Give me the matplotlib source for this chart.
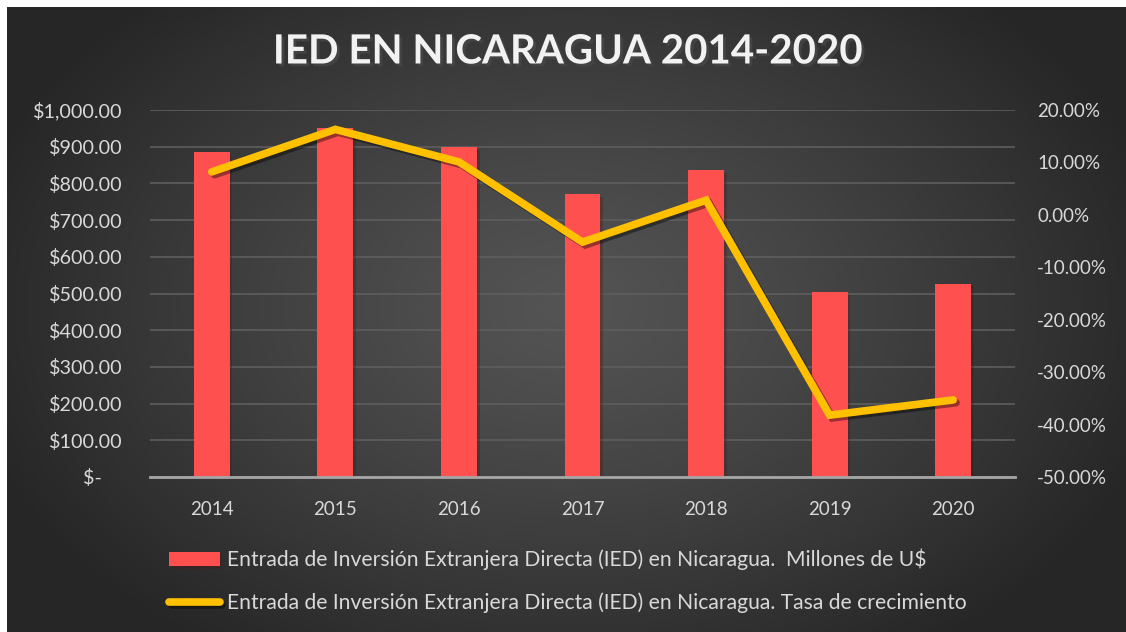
import matplotlib.pyplot as plt
import matplotlib.patheffects as pe
from matplotlib.ticker import FuncFormatter
import numpy as np

years = ['2014', '2015', '2016', '2017', '2018', '2019', '2020']
ied_millones = [884.4, 950.3, 898.8, 771.6, 837.0, 503.0, 527.0]
tasa = [8.2, 16.3, 10.1, -5.2, 2.8, -38.2, -35.3]  # %

bar_label = 'Entrada de Inversión Extranjera Directa (IED) en Nicaragua.  Millones de U$'
line_label = 'Entrada de Inversión Extranjera Directa (IED) en Nicaragua. Tasa de crecimiento'

plt.rcParams['font.family'] = ['Lato', 'DejaVu Sans']
txt = '#d9d9d9'

W, H = 1126, 632
fig = plt.figure(figsize=(W / 100, H / 100), dpi=100)
fig.patch.set_facecolor('white')

# radial gradient background
bg = fig.add_axes([7 / W, 0, 1 - 7 / W, 1 - 7 / H], zorder=-10)
yy, xx = np.mgrid[0:H - 7, 0:W - 7]
r = np.sqrt(((xx - 560) / 620) ** 2 + ((yy - 300) / 420) ** 2)
r = np.clip(r, 0, 1)
c = 0x54 - (0x54 - 0x26) * r ** 1.2
img = np.dstack([c, c, c]) / 255
bg.imshow(img, aspect='auto', interpolation='bilinear')
bg.axis('off')

ax = fig.add_axes([150 / W, 1 - 477 / H, 865 / W, 367 / H])
ax.set_facecolor('none')
x = np.arange(len(years))
ax.bar(x, ied_millones, width=0.29, color='#ff5050', zorder=3, label=bar_label,
       path_effects=[pe.SimplePatchShadow(offset=(2, -2), alpha=0.35), pe.Normal()])
ax.set_xlim(-0.5, len(years) - 0.5)
ax.set_ylim(0, 1000)
ax.set_yticks(np.arange(0, 1001, 100))
ax.yaxis.set_major_formatter(FuncFormatter(lambda v, p: '$-    ' if v == 0 else '${:,.2f}'.format(v)))
ax.set_xticks(x)
ax.set_xticklabels(years)
ax.grid(axis='y', color='#5e5e5e', lw=1.2, zorder=0)
ax.tick_params(axis='y', length=0, pad=20, labelsize=14.2, labelcolor=txt)
ax.tick_params(axis='x', length=0, pad=17, labelsize=13.5, labelcolor=txt)
for s in ['top', 'right', 'left']:
    ax.spines[s].set_visible(False)
ax.spines['bottom'].set_color('#a6a6a6')
ax.spines['bottom'].set_linewidth(2)
ax.spines['bottom'].set_zorder(4)

ax2 = ax.twinx()
ax2.plot(x, tasa, color='#ffc000', lw=5.5, solid_capstyle='round', solid_joinstyle='miter',
         zorder=5, label=line_label,
         path_effects=[pe.SimpleLineShadow(offset=(2, -2), alpha=0.4), pe.Normal()])
ax2.set_ylim(-50, 20)
ax2.set_yticks(np.arange(-50, 21, 10))
ax2.yaxis.set_major_formatter(FuncFormatter(lambda v, p: '{:.2f}%'.format(v)))
ax2.tick_params(axis='y', length=0, pad=16, labelsize=13.5, labelcolor=txt)
for s in ax2.spines.values():
    s.set_visible(False)

fig.text(0.504, 1 - 52 / H, 'IED EN NICARAGUA 2014-2020', ha='center', va='center',
         fontsize=29, fontweight='bold', color='#f2f2f2',
         path_effects=[pe.SimplePatchShadow(offset=(2, -2), alpha=0.7), pe.Normal()])

h1, l1 = ax.get_legend_handles_labels()
h2, l2 = ax2.get_legend_handles_labels()
leg = fig.legend(h1 + h2, l1 + l2, loc='upper left', bbox_to_anchor=(169 / W, 1 - 549 / H),
                 frameon=False, fontsize=15.2, labelcolor=txt, handlelength=2.4,
                 handleheight=0.65, handletextpad=0.34, labelspacing=1.05, borderpad=0,
                 borderaxespad=0)

fig.savefig('out.png', dpi=100)
